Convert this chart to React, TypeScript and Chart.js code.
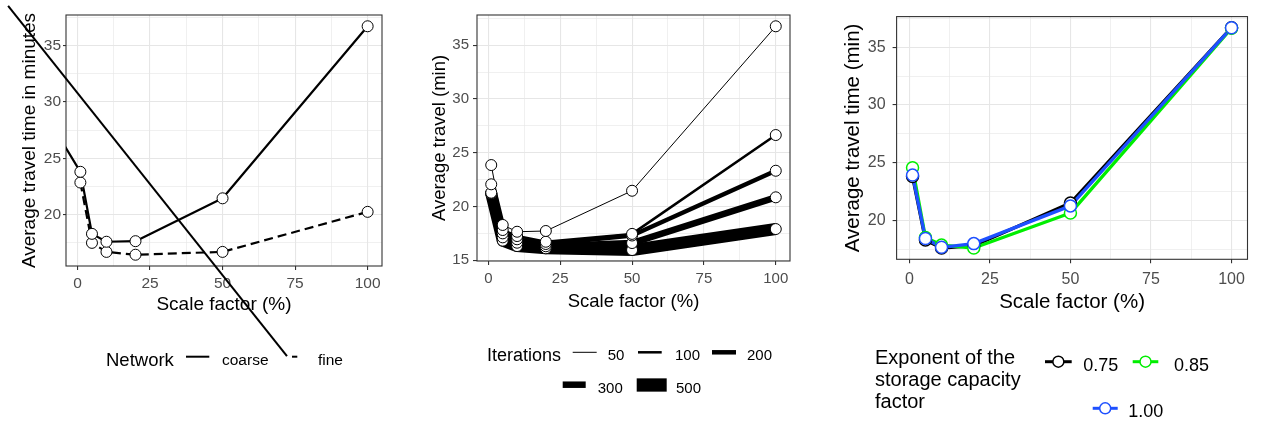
import React, { useEffect, useRef } from 'react';
import { Chart, registerables } from 'chart.js';

Chart.register(...registerables);

const FONT = '"Liberation Sans", Arial, Helvetica, sans-serif';
const H = 422;

// ---------- shared ----------
const scaleFactor = [1, 5, 10, 20, 50, 100];
const xMajorTicks = [0, 25, 50, 75, 100];
const xMinorTicks = [12.5, 37.5, 62.5, 87.5];

// ---------- panel 1 : network ----------
const networkLevels = ['coarse', 'fine'];
const coarseTime = [23.8, 18.3, 17.6, 17.65, 21.45, 36.7];
const fineTime = [22.85, 17.5, 16.7, 16.45, 16.7, 20.25];
const coarseLeadX = [-8];
const coarseLeadY = [27.6];
const strayLineX = [-23.9, 72.2];
const strayLineY = [38.5, 7.47];
const p1YMajor = [20, 25, 30, 35];
const p1YMinor = [17.5, 22.5, 27.5, 32.5, 37.5];

// ---------- panel 2 : iterations ----------
const iterationLevels = ['50', '100', '200', '300', '500'];
const iter50 = [23.85, 18.28, 17.65, 17.72, 21.46, 36.75];
const iter100 = [22.06, 17.81, 17.25, 16.72, 17.45, 26.64];
const iter200 = [21.28, 17.5, 16.95, 16.51, 17.3, 23.32];
const iter300 = [21.25, 17.13, 16.63, 16.3, 16.6, 20.85];
const iter500 = [21.2, 16.82, 16.32, 16.11, 15.95, 17.9];
const iterLineWidths = [1, 2.5, 4.5, 6.5, 12];
const p2YMajor = [15, 20, 25, 30, 35];
const p2YMinor = [17.5, 22.5, 27.5, 32.5, 37.5];

// ---------- panel 3 : exponent ----------
const exponentLevels = ['0.75', '0.85', '1.00'];
const exp075 = [23.8, 18.3, 17.6, 17.8, 21.5, 36.7];
const exp085 = [24.55, 18.5, 17.85, 17.6, 20.63, 36.65];
const exp100 = [23.92, 18.42, 17.66, 17.98, 21.25, 36.7];
const exponentColors = ['#000000', '#00EE00', '#1E50FF'];
const p3YMajor = [20, 25, 30, 35];
const p3YMinor = [17.5, 22.5, 27.5, 32.5, 37.5];

const pts = (xs: number[], ys: number[]) => xs.map((x, i) => ({ x, y: ys[i] }));

type ScaleOpts = {
  axis: 'x' | 'y';
  min: number;
  max: number;
  majors: number[];
  minors: number[];
  tickSize: number;
  tickLen: number;
  pad: number;
  title: string;
  titleSize: number;
  titlePad: number;
  fit: number;
};

function makeScale(o: ScaleOpts) {
  const major = (v: number) => o.majors.some((m) => Math.abs(m - v) < 1e-9);
  return {
    type: 'linear',
    position: o.axis === 'x' ? 'bottom' : 'left',
    min: o.min,
    max: o.max,
    border: { display: false },
    grid: {
      color: '#E6E6E6',
      lineWidth: (c: any) => (c.tick && major(c.tick.value) ? 1.1 : 0.6),
      drawTicks: true,
      tickLength: o.tickLen,
      tickWidth: 1.1,
      tickColor: (c: any) => (c.tick && major(c.tick.value) ? '#333333' : 'rgba(0,0,0,0)'),
    },
    ticks: {
      autoSkip: false,
      maxRotation: 0,
      minRotation: 0,
      padding: o.pad,
      color: '#4D4D4D',
      font: { family: FONT, size: o.tickSize },
      callback: (v: number) => (major(v) ? String(v) : ''),
    },
    afterBuildTicks: (s: any) => {
      s.ticks = [...o.majors, ...o.minors].sort((a, b) => a - b).map((value) => ({ value }));
    },
    afterFit: (s: any) => {
      if (o.axis === 'x') s.height = o.fit;
      else s.width = o.fit;
    },
    title: {
      display: true,
      text: o.title,
      color: '#000000',
      font: { family: FONT, size: o.titleSize },
      padding: o.axis === 'x' ? { top: 0, bottom: o.titlePad } : { top: o.titlePad, bottom: 0 },
    },
  };
}

function decor(drawLegend: (ctx: CanvasRenderingContext2D) => void) {
  return {
    id: 'decor',
    beforeDatasetsDraw(chart: any) {
      const { ctx, chartArea: a } = chart;
      ctx.save();
      ctx.strokeStyle = '#333333';
      ctx.lineWidth = 1.1;
      ctx.strokeRect(a.left, a.top, a.right - a.left, a.bottom - a.top);
      ctx.restore();
    },
    afterDraw(chart: any) {
      const ctx = chart.ctx as CanvasRenderingContext2D;
      ctx.save();
      drawLegend(ctx);
      ctx.restore();
    },
  };
}

function seg(ctx: CanvasRenderingContext2D, x1: number, y1: number, x2: number, y2: number) {
  ctx.beginPath();
  ctx.moveTo(x1, y1);
  ctx.lineTo(x2, y2);
  ctx.stroke();
}

function baseOptions(padding: any) {
  return {
    responsive: false,
    animation: false,
    devicePixelRatio: 1,
    events: [],
    layout: { padding },
    plugins: { legend: { display: false }, tooltip: { enabled: false } },
  };
}

const pointDs = (data: any[], color: string, r: number, bw: number, order: number) => ({
  data,
  showLine: false,
  pointRadius: r,
  pointHoverRadius: r,
  pointBorderWidth: bw,
  pointBackgroundColor: '#FFFFFF',
  pointBorderColor: color,
  borderColor: color,
  order,
});

const lineDs = (data: any[], color: string, w: number, order: number, extra: any = {}) => ({
  data,
  borderColor: color,
  borderWidth: w,
  borderJoinStyle: 'round',
  borderCapStyle: 'butt',
  pointRadius: 0,
  pointHoverRadius: 0,
  fill: false,
  tension: 0,
  order,
  ...extra,
});

// ---------- panel builders ----------
function panel1(): any {
  const legend = (ctx: CanvasRenderingContext2D) => {
    ctx.fillStyle = '#000';
    ctx.strokeStyle = '#000';
    ctx.lineCap = 'butt';
    ctx.textBaseline = 'alphabetic';
    ctx.font = `18.5px ${FONT}`;
    ctx.fillText('Network', 106, 365.5);
    ctx.lineWidth = 2;
    seg(ctx, 186, 356.7, 209.3, 356.7);
    ctx.font = `15.5px ${FONT}`;
    ctx.fillText(networkLevels[0], 222, 365);
    seg(ctx, 292, 356.7, 297.3, 356.7);
    ctx.fillText(networkLevels[1], 318, 365);
  };
  return {
    type: 'line',
    data: {
      datasets: [
        lineDs(pts(strayLineX, strayLineY), '#000', 2, 0, { clip: false }),
        pointDs(pts(scaleFactor, coarseTime), '#000', 5.5, 1, 1),
        pointDs(pts(scaleFactor, fineTime), '#000', 5.5, 1, 1),
        lineDs([...pts(coarseLeadX, coarseLeadY), ...pts(scaleFactor, coarseTime)], '#000', 2.2, 2),
        lineDs(pts(scaleFactor, fineTime), '#000', 2.2, 3, { borderDash: [9, 5] }),
      ],
    },
    options: {
      ...baseOptions({ left: 0, top: 15, right: 38, bottom: 0 }),
      scales: {
        x: makeScale({ axis: 'x', min: -3.95, max: 104.95, majors: xMajorTicks, minors: xMinorTicks, tickSize: 15.5, tickLen: 4, pad: 4.5, title: 'Scale factor (%)', titleSize: 19, titlePad: 105.9, fit: 156 }),
        y: makeScale({ axis: 'y', min: 15.45, max: 37.7, majors: p1YMajor, minors: p1YMinor, tickSize: 15.5, tickLen: 3, pad: 2, title: 'Average travel time in minutes', titleSize: 19, titlePad: 18.6, fit: 66 }),
      },
    },
    plugins: [decor(legend)],
  };
}

function panel2(): any {
  const series = [iter50, iter100, iter200, iter300, iter500];
  const legend = (ctx: CanvasRenderingContext2D) => {
    ctx.fillStyle = '#000';
    ctx.strokeStyle = '#000';
    ctx.lineCap = 'butt';
    ctx.textBaseline = 'alphabetic';
    ctx.font = `18px ${FONT}`;
    ctx.fillText('Iterations', 67, 360.7);
    ctx.font = `15px ${FONT}`;
    const keys = [
      [152.7, 176.7, 352.3, 187.7, 360],
      [218, 241.7, 352.3, 255, 360],
      [292, 316, 352.3, 327, 360],
      [142.7, 165.7, 384.7, 177.7, 392.7],
      [216.7, 246.7, 385, 256, 392.7],
    ];
    keys.forEach((k, i) => {
      ctx.lineWidth = i === 4 ? 13.3 : iterLineWidths[i];
      seg(ctx, k[0], k[2], k[1], k[2]);
      ctx.fillText(iterationLevels[i], k[3], k[4]);
    });
  };
  const pointSets = series.map((s) => pointDs(pts(scaleFactor, s), '#000', 5.5, 1, 1));
  const lineSets = series.map((s, i) => lineDs(pts(scaleFactor, s), '#000', iterLineWidths[i], 10 - i));
  return {
    type: 'line',
    data: { datasets: [...pointSets, ...lineSets] },
    options: {
      ...baseOptions({ left: 0, top: 15, right: 40, bottom: 0 }),
      scales: {
        x: makeScale({ axis: 'x', min: -3.95, max: 104.95, majors: xMajorTicks, minors: xMinorTicks, tickSize: 15, tickLen: 4, pad: 4.7, title: 'Scale factor (%)', titleSize: 18.5, titlePad: 109.2, fit: 161 }),
        y: makeScale({ axis: 'y', min: 14.93, max: 37.8, majors: p2YMajor, minors: p2YMinor, tickSize: 15, tickLen: 4, pad: 4, title: 'Average travel (min)', titleSize: 18.5, titlePad: 8.9, fit: 57 }),
      },
    },
    plugins: [decor(legend)],
  };
}

function panel3(): any {
  const series = [exp075, exp085, exp100];
  const legend = (ctx: CanvasRenderingContext2D) => {
    ctx.fillStyle = '#000';
    ctx.lineCap = 'butt';
    ctx.textBaseline = 'alphabetic';
    ctx.font = `20px ${FONT}`;
    ctx.fillText('Exponent of the', 45, 364.3);
    ctx.fillText('storage capacity', 45, 386.3);
    ctx.fillText('factor', 45, 408.3);
    const keys = [
      [215, 241.7, 361.7, 253.3, 371],
      [302.7, 328.3, 361.7, 344, 371],
      [262.7, 287.7, 408.3, 298.3, 417],
    ];
    keys.forEach((k, i) => {
      ctx.strokeStyle = exponentColors[i];
      ctx.lineWidth = 3;
      seg(ctx, k[0], k[2], k[1], k[2]);
      ctx.beginPath();
      ctx.arc((k[0] + k[1]) / 2, k[2], 5.5, 0, Math.PI * 2);
      ctx.fillStyle = '#FFFFFF';
      ctx.fill();
      ctx.lineWidth = 1.5;
      ctx.stroke();
      ctx.fillStyle = '#000';
      ctx.font = `18px ${FONT}`;
      ctx.fillText(exponentLevels[i], k[3], k[4]);
    });
  };
  const pointSets = series.map((s, i) => pointDs(pts(scaleFactor, s), exponentColors[i], 6, 1.5, 3 - i));
  const lineSets = series.map((s, i) => lineDs(pts(scaleFactor, s), exponentColors[i], 3.3, 6 - i));
  return {
    type: 'line',
    data: { datasets: [...pointSets, ...lineSets] },
    options: {
      ...baseOptions({ left: 0, top: 16, right: 14.5, bottom: 0 }),
      scales: {
        x: makeScale({ axis: 'x', min: -3.95, max: 104.95, majors: xMajorTicks, minors: xMinorTicks, tickSize: 16, tickLen: 4, pad: 6.3, title: 'Scale factor (%)', titleSize: 20.5, titlePad: 107.2, fit: 162.7 }),
        y: makeScale({ axis: 'y', min: 16.62, max: 37.66, majors: p3YMajor, minors: p3YMinor, tickSize: 16, tickLen: 4, pad: 7, title: 'Average travel time (min)', titleSize: 20.5, titlePad: 10.7, fit: 66.6 }),
      },
    },
    plugins: [decor(legend)],
  };
}

function ChartCanvas({ left, width, build }: { left: number; width: number; build: () => any }) {
  const ref = useRef<HTMLCanvasElement>(null);
  useEffect(() => {
    const chart = new Chart(ref.current as HTMLCanvasElement, build());
    return () => chart.destroy();
  }, []);
  return (
    <canvas
      ref={ref}
      width={width}
      height={H}
      style={{ position: 'absolute', left, top: 0, width, height: H, display: 'block' }}
    />
  );
}

export default function App() {
  return (
    <div
      style={{
        position: 'fixed',
        left: 0,
        top: 0,
        width: 1262,
        height: H,
        background: '#FFFFFF',
        overflow: 'hidden',
      }}
    >
      <ChartCanvas left={0} width={420} build={panel1} />
      <ChartCanvas left={420} width={410} build={panel2} />
      <ChartCanvas left={830} width={432} build={panel3} />
    </div>
  );
}
